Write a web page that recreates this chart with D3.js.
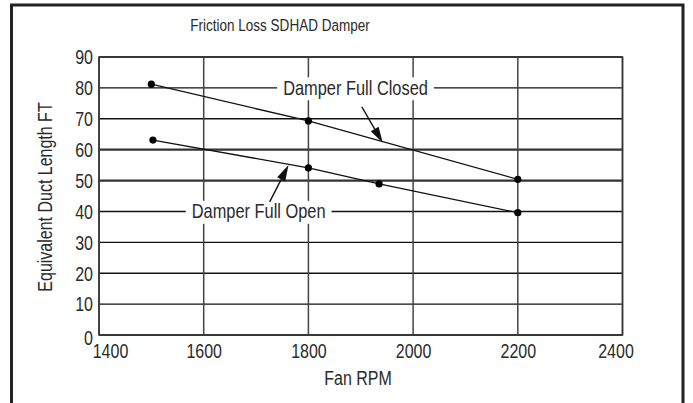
<!DOCTYPE html>
<html>
<head>
<meta charset="utf-8">
<script src="https://cdn.jsdelivr.net/npm/d3@7"></script>
<style>
  html, body { margin: 0; padding: 0; background: #fff; }
  svg { display: block; }
  text { font-family: "Liberation Sans", Arial, sans-serif; fill: #2a2a2a; }
  text.narrow { transform-box: fill-box; transform-origin: center; transform: scaleX(0.82); }
  text.narrow-r { transform-box: fill-box; transform-origin: right center; transform: scaleX(0.82); }
</style>
</head>
<body>
<svg id="chart" width="693" height="403"></svg>
<script>
// ---------- data ----------
const title = "Friction Loss SDHAD Damper";
const xLabel = "Fan RPM";
const yLabel = "Equivalent Duct Length FT";
const xTicks = [1400, 1600, 1800, 2000, 2200, 2400];
const yTicks = [0, 10, 20, 30, 40, 50, 60, 70, 80, 90];
const closedRPM = [1500, 1800, 2200];
const closedLength = [81.2, 69.3, 50.4];
const openRPM = [1503, 1800, 1935, 2200];
const openLength = [63.1, 54.1, 48.9, 39.6];
const annotationLabels = ["Damper Full Closed", "Damper Full Open"];
const annotationAnchorRPM = [1890, 1705];
const annotationAnchorLength = [80, 40];
const arrowTailRPM = [1902, 1726];
const arrowTailLength = [73.9, 43.1];
const arrowTipRPM = [1942, 1762];
const arrowTipLength = [62.2, 55.0];

(function () {
const SX = 0.82;
const svg = d3.select("#chart");
const pL = 99, pR = 622.5, pT = 57, pB = 335;
const x = d3.scaleLinear().domain([1400, 2400]).range([pL, pR]);
const y = d3.scaleLinear().domain([0, 90]).range([pB, pT]);

// outer frame (open at bottom)
svg.append("path")
  .attr("d", `M11.5,403 V5 H683 V403`)
  .attr("fill", "none").attr("stroke", "#222").attr("stroke-width", 3);

// title
svg.append("text").attr("class", "narrow").attr("x", 280).attr("y", 31)
  .attr("text-anchor", "middle").style("font-size", "16.5px").text(title);

// horizontal grid
const thick = new Set([50, 60]);
svg.append("g").selectAll("line").data(yTicks).join("line")
  .attr("x1", pL).attr("x2", pR)
  .attr("y1", d => y(d)).attr("y2", d => y(d))
  .attr("stroke", d => thick.has(d) ? "#333" : "#111")
  .attr("stroke-width", d => thick.has(d) ? 2.2 : 1.4);

// vertical grid
svg.append("g").selectAll("line").data(xTicks).join("line")
  .attr("x1", d => x(d)).attr("x2", d => x(d))
  .attr("y1", pT).attr("y2", pB)
  .attr("stroke", "#444").attr("stroke-width", 1.5);

// plot border
svg.append("rect").attr("x", pL).attr("y", pT)
  .attr("width", pR - pL).attr("height", pB - pT)
  .attr("fill", "none").attr("stroke", "#333").attr("stroke-width", 1.5);

// axes (labels only)
const xAxis = svg.append("g").attr("transform", `translate(0,${pB})`)
  .call(d3.axisBottom(x).tickValues(xTicks).tickSize(0).tickPadding(23).tickFormat(d3.format("d")));
xAxis.select(".domain").remove();
xAxis.selectAll("text").attr("class", "narrow").style("font-size", "19.5px").attr("dy", 0)
  .attr("dx", d => d === 1400 ? 11 : d === 2400 ? -7 : 0);

const yAxis = svg.append("g").attr("transform", `translate(${pL},0)`)
  .call(d3.axisLeft(y).tickValues(yTicks).tickSize(0).tickPadding(6).tickFormat(d3.format("d")));
yAxis.select(".domain").remove();
yAxis.selectAll("text").attr("class", "narrow-r").style("font-size", "19.5px")
  .attr("dy", d => d === 0 ? "0.5em" : "0.35em");

// axis titles
svg.append("text").attr("class", "narrow").attr("x", 358).attr("y", 385)
  .attr("text-anchor", "middle").style("font-size", "19.5px").text(xLabel);
svg.append("g").attr("transform", "translate(52,197) rotate(-90)")
  .append("text").attr("class", "narrow").attr("x", 0).attr("y", 0)
  .attr("text-anchor", "middle").style("font-size", "19.5px").text(yLabel);

// annotation labels with white background (break gridlines)
annotationLabels.forEach((lab, i) => {
  const g = svg.append("g");
  const cx = x(annotationAnchorRPM[i]);
  const t = g.append("text").attr("class", "narrow")
    .attr("x", cx).attr("y", y(annotationAnchorLength[i]) + 7)
    .attr("text-anchor", "middle").style("font-size", "20px").text(lab);
  const bb = t.node().getBBox();
  const w = bb.width * SX + 12;
  g.insert("rect", "text")
    .attr("x", cx - w / 2).attr("y", bb.y + 1)
    .attr("width", w).attr("height", bb.height)
    .attr("fill", "#fff");
});

// series lines
const line = d3.line().x(d => x(d[0])).y(d => y(d[1]));
const closed = d3.zip(closedRPM, closedLength);
const open = d3.zip(openRPM, openLength);
[closed, open].forEach(s => {
  svg.append("path").datum(s).attr("d", line)
    .attr("fill", "none").attr("stroke", "#111").attr("stroke-width", 1.3);
  svg.append("g").selectAll("circle").data(s).join("circle")
    .attr("cx", d => x(d[0])).attr("cy", d => y(d[1])).attr("r", 3.6).attr("fill", "#000");
});

// arrows
arrowTailRPM.forEach((_, i) => {
  const x0 = x(arrowTailRPM[i]), y0 = y(arrowTailLength[i]);
  const x1 = x(arrowTipRPM[i]), y1 = y(arrowTipLength[i]);
  const ang = Math.atan2(y1 - y0, x1 - x0);
  const L = 16, W = 4.5;
  const bx = x1 - L * Math.cos(ang), by = y1 - L * Math.sin(ang);
  const px = -Math.sin(ang) * W, py = Math.cos(ang) * W;
  svg.append("line").attr("x1", x0).attr("y1", y0).attr("x2", bx).attr("y2", by)
    .attr("stroke", "#111").attr("stroke-width", 1.4);
  svg.append("polygon")
    .attr("points", [[x1, y1], [bx + px, by + py], [bx - px, by - py]].map(p => p.join(",")).join(" "))
    .attr("fill", "#111");
});
})();
</script>
</body>
</html>
